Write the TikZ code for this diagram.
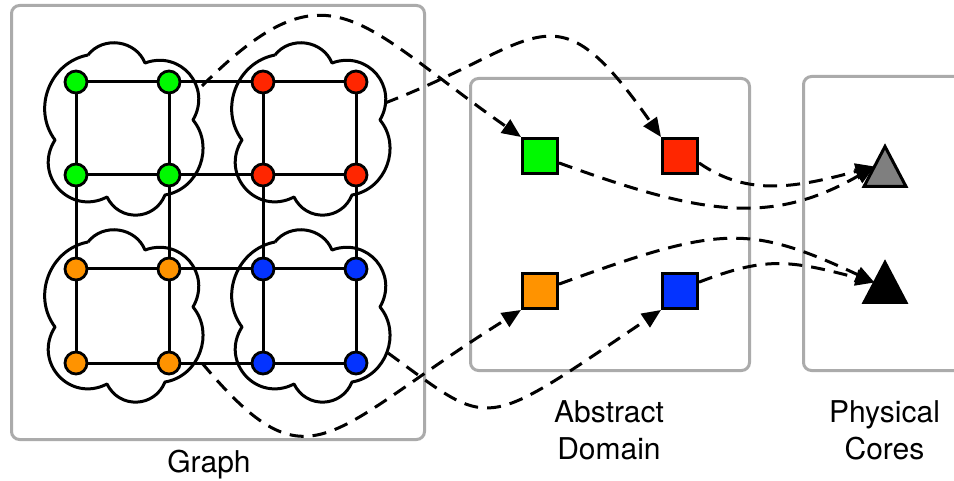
\documentclass[tikz,border=0pt]{standalone}
\usepackage{fontspec}
\setmainfont{TeX Gyre Heros}
\usetikzlibrary{arrows.meta,shapes.geometric}
\definecolor{boxgray}{HTML}{ABABAB}
\definecolor{spring}{HTML}{00F900}
\definecolor{maraschino}{HTML}{FF2600}
\definecolor{tangerine}{HTML}{FF9300}
\definecolor{blueberry}{HTML}{0433FF}
\definecolor{coregray}{HTML}{7F7F7F}
\begin{document}
\begin{tikzpicture}[x=1pt,y=1pt,
  panelbox/.style={draw=boxgray,line width=3pt,rounded corners=8pt},
  gvertex/.style={circle,draw,line width=2.8pt,minimum size=22pt,inner sep=0pt},
  gridline/.style={line width=3pt},
  puffline/.style={line width=3pt,line join=round},
  absbox/.style={rectangle,draw,line width=3pt,minimum size=35pt,inner sep=0pt},
  coretri/.style={isosceles triangle,isosceles triangle stretches,shape border rotate=90,
    draw,line width=3pt,minimum width=42pt,minimum height=40pt,inner sep=0pt,
    outer sep=0pt,anchor=apex},
  mapline/.style={line width=3pt,dash pattern=on 14pt off 9pt,
    -{Triangle[length=19pt,width=16pt]}},
  labeltext/.style={font=\fontsize{30}{37.6}\selectfont,align=center,inner sep=0pt},
  puffs/.pic={
    \draw[puffline] (12,27)
      to[bend left=60,looseness=1.1]  (69,19)
      to[bend left=70,looseness=1.31] (117,-38)
      to[bend left=60,looseness=1.1]  (89,-113)
      to[bend left=66,looseness=1.23] (31,-115)
      to[bend left=75,looseness=1.38] (-21,-58)
      to[bend left=58,looseness=1.09] (12,27);
  }
]
\useasboundingbox (0,0) rectangle (954,-481);
\fill[white] (0,0) rectangle (954,-481);

% three panels
\draw[panelbox] (11.5,-5.5) rectangle (424.5,-439.5);
\draw[panelbox] (470.5,-78.5) rectangle (749.5,-370.5);
\draw[panelbox] (803.5,-76.5) rectangle (990,-370.5);

% partitions of the graph
\pic at (76,-82)  {puffs};
\pic at (263,-82) {puffs};
\pic at (76,-269) {puffs};
\pic at (263,-269) {puffs};

% graph vertices
\node[gvertex,fill=spring] (g1) at (76,-82) {};
\node[gvertex,fill=spring] (g2) at (169,-82) {};
\node[gvertex,fill=spring] (g3) at (76,-175) {};
\node[gvertex,fill=spring] (g4) at (169,-175) {};
\node[gvertex,fill=maraschino] (r1) at (263,-82) {};
\node[gvertex,fill=maraschino] (r2) at (356,-82) {};
\node[gvertex,fill=maraschino] (r3) at (263,-175) {};
\node[gvertex,fill=maraschino] (r4) at (356,-175) {};
\node[gvertex,fill=tangerine] (o1) at (76,-269) {};
\node[gvertex,fill=tangerine] (o2) at (169,-269) {};
\node[gvertex,fill=tangerine] (o3) at (76,-363) {};
\node[gvertex,fill=tangerine] (o4) at (169,-363) {};
\node[gvertex,fill=blueberry] (b1) at (263,-269) {};
\node[gvertex,fill=blueberry] (b2) at (356,-269) {};
\node[gvertex,fill=blueberry] (b3) at (263,-363) {};
\node[gvertex,fill=blueberry] (b4) at (356,-363) {};

% graph edges
\draw[gridline] (g1) -- (g2) -- (r1) -- (r2);
\draw[gridline] (g3) -- (g4) -- (r3) -- (r4);
\draw[gridline] (o1) -- (o2) -- (b1) -- (b2);
\draw[gridline] (o3) -- (o4) -- (b3) -- (b4);
\draw[gridline] (g1) -- (g3) -- (o1) -- (o3);
\draw[gridline] (g2) -- (g4) -- (o2) -- (o4);
\draw[gridline] (r1) -- (r3) -- (b1) -- (b3);
\draw[gridline] (r2) -- (r4) -- (b2) -- (b4);

% abstract domains
\node[absbox,fill=spring]     (gsq) at (540,-156) {};
\node[absbox,fill=maraschino] (rsq) at (680,-156) {};
\node[absbox,fill=tangerine]  (osq) at (540,-291) {};
\node[absbox,fill=blueberry]  (bsq) at (680,-291) {};

% physical cores
\node[coretri,fill=coregray] (c1) at (885,-146.5) {};
\node[coretri,fill=black]    (c2) at (885,-262.5) {};

% where the mappings leave the partitions
\coordinate (gsrc) at (202,-86);
\coordinate (rsrc) at (385,-103);
\coordinate (osrc) at (202,-363);
\coordinate (bsrc) at (388,-353);

% partitions to abstract domains
\draw[mapline] (gsrc) .. controls +(45:180) and +(145:200) .. (gsq.north west);
\draw[mapline] (rsrc) .. controls +(21:170) and +(125:190) .. (rsq.north west);
\draw[mapline] (osrc) .. controls +(-50:170) and +(-148:230) .. (osq.south west);
\draw[mapline] (bsrc) .. controls +(-36:130) and +(-146:220) .. (bsq.south west);

% abstract domains to physical cores
\draw[mapline] (gsq.-20) .. controls +(-20:150) and +(-150:120) .. (c1.left side);
\draw[mapline] (rsq.-20) .. controls +(-35:60) and +(-165:80) .. (c1.left side);
\draw[mapline] (osq.20) .. controls +(20:170) and +(155:140) .. (c2.left side);
\draw[mapline] (bsq.25) .. controls +(21:70) and +(165:90) .. (c2.left side);

% captions
\node[labeltext,anchor=base] (lgraph) at (209,-472) {Graph};
\node[labeltext,anchor=north] (labs) at (609,-400) {Abstract\\Domain};
\node[labeltext,anchor=north] (lphys) at (884.5,-400) {Physical\\Cores};
\end{tikzpicture}
\end{document}
